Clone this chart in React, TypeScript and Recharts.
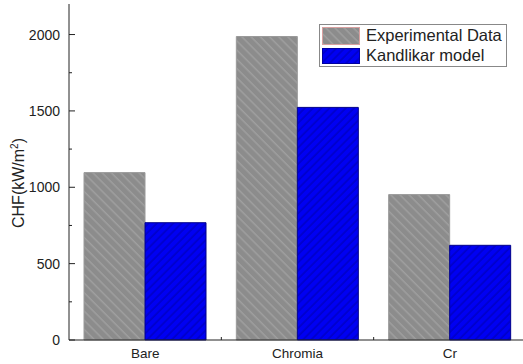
import React from 'react';
import { BarChart, Bar, XAxis, YAxis } from 'recharts';

const categories = ['Bare', 'Chromia', 'Cr'];
const experimental = [1096, 1987, 952];
const kandlikar = [768, 1523, 620];
const yTicks = [0, 250, 500, 750, 1000, 1250, 1500, 1750, 2000];
const seriesNames = ['Experimental Data', 'Kandlikar model'];

const data = categories.map((c, i) => ({ name: c, exp: experimental[i], kan: kandlikar[i] }));

const W = 530;
const H = 364;
const M = { top: 4, right: 4, bottom: 0, left: 0 };
const YW = 69;
const XH = 24;
const PLOT_L = M.left + YW;
const PLOT_R = W - M.right;
const PLOT_B = H - M.bottom - XH;
const BAND = (PLOT_R - PLOT_L) / categories.length;
const FONT = 'Liberation Sans, Arial, sans-serif';

const LeftTick = (props: any) => {
  const { y, payload } = props;
  const major = payload.value % 500 === 0;
  return (
    <g>
      <line x1={PLOT_L} x2={PLOT_L + (major ? 6 : 3)} y1={y} y2={y} stroke="#222" strokeWidth={1} />
      {major && (
        <text x={PLOT_L - 9} y={y} dy={5} textAnchor="end" fontSize={14} fontFamily={FONT} fill="#222">
          {payload.value}
        </text>
      )}
    </g>
  );
};

const RightTick = (props: any) => {
  const { y, payload } = props;
  const major = payload.value % 500 === 0;
  return <line x1={PLOT_R} x2={PLOT_R - (major ? 7 : 4)} y1={y} y2={y} stroke="#222" strokeWidth={1} />;
};

const BottomTick = (props: any) => {
  const { x, payload, index } = props;
  return (
    <g>
      {index < categories.length - 1 && (
        <line x1={x + BAND / 2} x2={x + BAND / 2} y1={PLOT_B} y2={PLOT_B - 3} stroke="#222" />
      )}
      <text x={x} y={PLOT_B + 18} textAnchor="middle" fontSize={13.5} fontFamily={FONT} fill="#222">
        {payload.value}
      </text>
    </g>
  );
};

const TopTick = (props: any) => {
  const { x, index } = props;
  return (
    <g>
      <line x1={x} x2={x} y1={M.top} y2={M.top + 7} stroke="#222" />
      {index < categories.length - 1 && (
        <line x1={x + BAND / 2} x2={x + BAND / 2} y1={M.top} y2={M.top + 3} stroke="#222" />
      )}
    </g>
  );
};

const LegendBox = () => (
  <div
    style={{
      position: 'absolute',
      left: 319,
      top: 24,
      width: 188,
      height: 43,
      border: '1px solid #888',
      background: '#fff',
      boxSizing: 'border-box',
      fontFamily: FONT,
      fontSize: 16.5,
      color: '#222',
    }}
  >
    <svg width={40} height={40} style={{ position: 'absolute', left: 2, top: 2 }}>
      <rect x={0.5} y={0.5} width={37} height={17} fill="url(#hatchGray)" stroke="#d9a0a0" />
      <rect x={0.5} y={21.5} width={37} height={15} fill="url(#hatchBlue)" stroke="#0000a0" />
    </svg>
    <div style={{ position: 'absolute', left: 46, top: 0, lineHeight: '20px', whiteSpace: 'nowrap' }}>
      {seriesNames[0]}
    </div>
    <div style={{ position: 'absolute', left: 46, top: 20, lineHeight: '20px', whiteSpace: 'nowrap' }}>
      {seriesNames[1]}
    </div>
  </div>
);

const YLabel = () => (
  <text
    transform={`translate(24, 183) rotate(-90)`}
    textAnchor="middle"
    fontSize={16}
    fontFamily={FONT}
    fill="#222"
  >
    CHF(kW/m
    <tspan dy={-6} fontSize={10}>2</tspan>
    <tspan dy={6}>)</tspan>
  </text>
);

export default function App() {
  return (
    <div style={{ position: 'absolute', left: 0, top: 0, width: 523, height: 364, overflow: 'hidden', background: '#fff' }}>
      <BarChart width={W} height={H} data={data} margin={M} barCategoryGap={15} barGap={0}>
        <defs>
          <pattern id="hatchGray" patternUnits="userSpaceOnUse" width={6.5} height={6.5} patternTransform="rotate(-45)">
            <rect width={6.5} height={6.5} fill="#8c8c8c" />
            <line x1={2} y1={0} x2={2} y2={6.5} stroke="#a6a6a6" strokeWidth={1.1} />
          </pattern>
          <pattern id="hatchBlue" patternUnits="userSpaceOnUse" width={5.8} height={5.8} patternTransform="rotate(45)">
            <rect width={5.8} height={5.8} fill="#0000f2" />
            <line x1={2} y1={0} x2={2} y2={5.8} stroke="#0000b4" strokeWidth={1.1} />
          </pattern>
        </defs>
        <XAxis
          dataKey="name"
          height={XH}
          axisLine={{ stroke: '#222' }}
          tickLine={false}
          tick={<BottomTick />}
          interval={0}
        />
        <XAxis
          xAxisId="top"
          dataKey="name"
          orientation="top"
          height={0}
          axisLine={{ stroke: '#222' }}
          tickLine={false}
          tick={<TopTick />}
          interval={0}
        />
        <YAxis
          width={YW}
          domain={[0, 2200]}
          ticks={yTicks}
          interval={0}
          axisLine={{ stroke: '#222' }}
          tickLine={false}
          tick={<LeftTick />}
          label={<YLabel />}
        />
        <YAxis
          yAxisId="right"
          orientation="right"
          width={0}
          domain={[0, 2200]}
          ticks={yTicks}
          interval={0}
          axisLine={{ stroke: '#222' }}
          tickLine={false}
          tick={<RightTick />}
        />
        <Bar dataKey="exp" name={seriesNames[0]} fill="url(#hatchGray)" stroke="#9a9a9a" strokeWidth={1} isAnimationActive={false} />
        <Bar dataKey="kan" name={seriesNames[1]} fill="url(#hatchBlue)" stroke="#00008a" strokeWidth={1} isAnimationActive={false} />
      </BarChart>
      <LegendBox />
    </div>
  );
}
